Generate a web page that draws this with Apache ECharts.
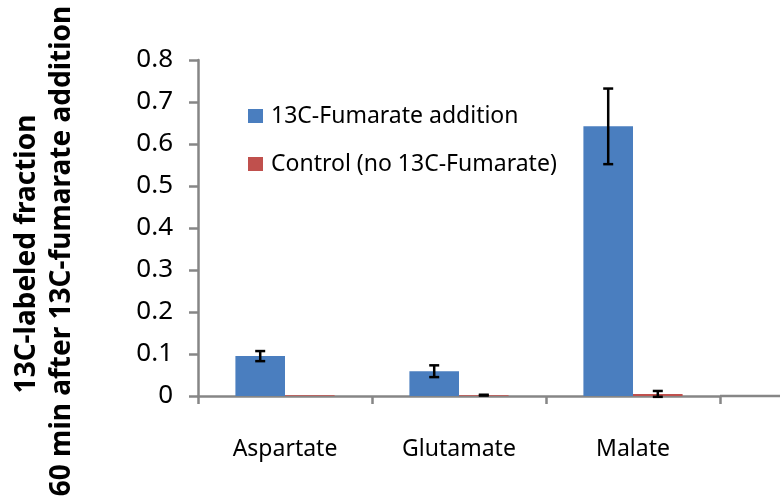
<!DOCTYPE html>
<html>
<head>
<meta charset="utf-8">
<script src="https://cdn.jsdelivr.net/npm/echarts@6/dist/echarts.min.js"></script>
<style>html,body{margin:0;padding:0;background:#fff}#c{width:780px;height:497px}</style>
</head>
<body>
<div id="c"></div>
<script>
const categories = ['Aspartate', 'Glutamate', 'Malate'];
const seriesNames = ['13C-Fumarate addition', 'Control (no 13C-Fumarate)'];
const fumarateValues = [0.095, 0.059, 0.642];
const fumarateErrors = [0.012, 0.014, 0.090];
const controlValues = [0.002, 0.002, 0.005];
const controlErrors = [0.000, 0.001, 0.007];
const yTicks = [0, 0.1, 0.2, 0.3, 0.4, 0.5, 0.6, 0.7, 0.8];

const FONT = 'Noto Sans';
const GRID = {left: 198, right: 60, top: 60, bottom: 101};
const CAT_GAP = 0.43;
const AXIS_COLOR = '#868686';

const chart = echarts.init(document.getElementById('c'));

function errSeries(values, errors, seriesIdx) {
  return {
    type: 'custom',
    silent: true,
    z: 10,
    data: values.map((v, i) => [i, v - errors[i], v + errors[i], errors[i]]),
    renderItem: function (params, api) {
      if (api.value(3) <= 0) return null;
      const band = api.size([1, 0])[0];
      const barW = band * (1 - CAT_GAP) / 2;
      const off = (seriesIdx === 0 ? -1 : 1) * barW / 2;
      const lo = api.coord([api.value(0), api.value(1)]);
      const hi = api.coord([api.value(0), api.value(2)]);
      const x = lo[0] + off;
      const cap = 5;
      const style = {stroke: '#000', lineWidth: 2.5};
      return {
        type: 'group',
        children: [
          {type: 'line', shape: {x1: x, y1: lo[1], x2: x, y2: hi[1]}, style},
          {type: 'line', shape: {x1: x - cap, y1: lo[1], x2: x + cap, y2: lo[1]}, style},
          {type: 'line', shape: {x1: x - cap, y1: hi[1], x2: x + cap, y2: hi[1]}, style}
        ]
      };
    }
  };
}

chart.setOption({
  animation: false,
  backgroundColor: '#fff',
  grid: GRID,
  legend: {
    orient: 'vertical',
    left: 243,
    top: 97,
    itemWidth: 15,
    itemHeight: 14,
    itemGap: 20,
    data: seriesNames,
    textStyle: {fontFamily: FONT, fontSize: 23, lineHeight: 28, color: '#000', padding: [0, 0, 0, 3]},
    icon: 'rect'
  },
  xAxis: {
    type: 'category',
    data: categories,
    axisLine: {lineStyle: {color: AXIS_COLOR, width: 2.5}},
    axisTick: {show: true, length: 8, lineStyle: {color: AXIS_COLOR, width: 2.5}},
    axisLabel: {fontFamily: FONT, fontSize: 23, color: '#000', margin: 42}
  },
  yAxis: {
    type: 'value',
    min: yTicks[0],
    max: yTicks[yTicks.length - 1],
    interval: 0.1,
    splitLine: {show: false},
    axisLine: {show: true, lineStyle: {color: AXIS_COLOR, width: 2.5}},
    axisTick: {show: true, length: 9, lineStyle: {color: AXIS_COLOR, width: 2.5}},
    axisLabel: {
      color: '#000', margin: 25,
      formatter: v => '{t|' + (Math.round(v * 10) / 10) + '}',
      rich: {t: {fontFamily: FONT, fontSize: 26, color: '#000'}}
    }
  },
  graphic: [
    {
      type: 'text',
      rotation: Math.PI / 2,
      x: 27, y: 254,
      style: {text: '13C-labeled fraction', fontFamily: FONT, fontWeight: 'bold', fontSize: 28,
        fill: '#000', align: 'center', verticalAlign: 'middle'}
    },
    {
      type: 'text',
      rotation: Math.PI / 2,
      x: 62, y: 251,
      style: {text: '60 min after 13C-fumarate addition', fontFamily: FONT, fontWeight: 'bold', fontSize: 28,
        fill: '#000', align: 'center', verticalAlign: 'middle'}
    },
    {
      type: 'line',
      shape: {x1: 780 - GRID.right, y1: 497 - GRID.bottom, x2: 780, y2: 497 - GRID.bottom},
      style: {stroke: AXIS_COLOR, lineWidth: 2.5}
    }
  ],
  series: [
    {
      name: seriesNames[0], type: 'bar', data: fumarateValues,
      barGap: '0%', barCategoryGap: (CAT_GAP * 100) + '%',
      itemStyle: {color: '#4A7EBF'}
    },
    {
      name: seriesNames[1], type: 'bar', data: controlValues,
      itemStyle: {color: '#C0504D'}
    },
    errSeries(fumarateValues, fumarateErrors, 0),
    errSeries(controlValues, controlErrors, 1)
  ]
});
</script>
</body>
</html>
